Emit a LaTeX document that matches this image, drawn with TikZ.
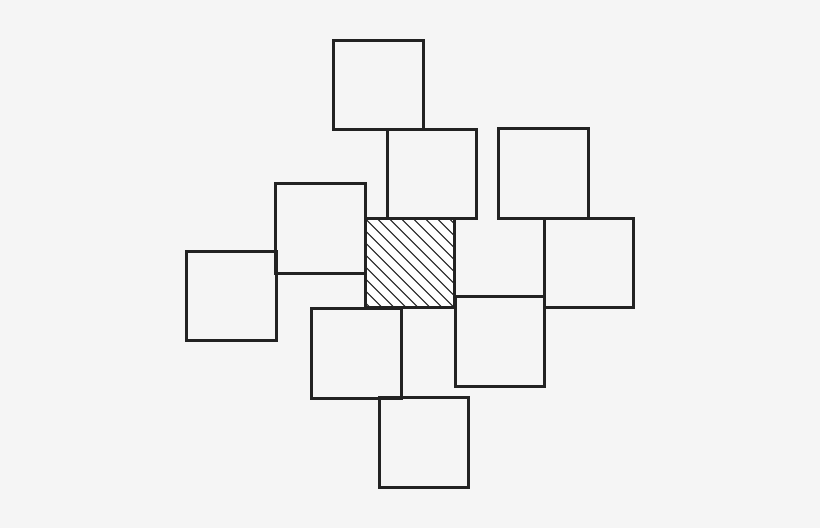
\documentclass[tikz,border=0pt]{standalone}
\usetikzlibrary{positioning}

\definecolor{paper}{HTML}{F5F5F5}
\definecolor{ink}{HTML}{222222}

\begin{document}
\begin{tikzpicture}[x=0.01cm,y=-0.01cm,
        tile/.style={rectangle,draw=ink,line width=0.85pt,minimum size=0.895cm,inner sep=0pt,outer sep=0pt},
        marked/.style={tile,fill=white}]
    \fill[paper] (0,0) rectangle (820,528);
    \useasboundingbox (0,0) rectangle (820,528);

    \node[tile] (1) at (378.3,84.8) {};
    \node[tile] (2) at (432,174) {};
    \node[tile] (3) at (543.5,173.7) {};
    \node[tile] (4) at (320.7,228.3) {};
    \node[marked] (5) at (409.8,263.2) {};
    \node[tile] (6) at (589.2,263) {};
    \node[tile] (7) at (231.3,295.8) {};
    \node[tile] (8) at (499.9,341.7) {};
    \node[tile] (9) at (356.7,353.3) {};
    \node[tile] (10) at (424,442.5) {};

    % hatching of the middle tile
    \begin{scope}
        \clip (5.north west) rectangle (5.south east);
        \foreach \c in {-84,-72,...,96}
            \draw[ink,line width=0.28pt] ([xshift=\c*0.01cm]5.north west) -- ++(100,100);
    \end{scope}
    \node[tile] at (5) {};
\end{tikzpicture}
\end{document}
